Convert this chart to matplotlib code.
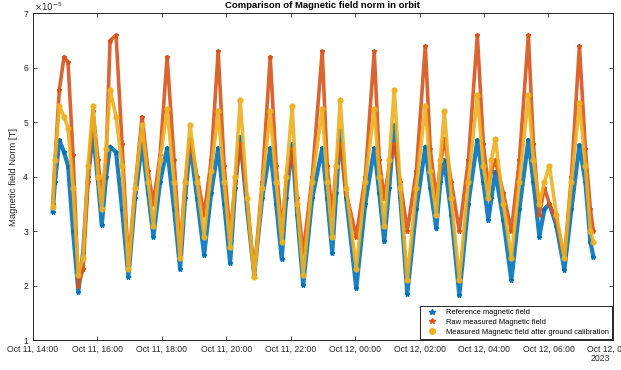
import matplotlib
matplotlib.use("Agg")
import matplotlib.pyplot as plt
import matplotlib.dates as mdates
from matplotlib.lines import Line2D
import pandas as pd

plt.rcParams['font.family'] = ['Liberation Sans', 'DejaVu Sans']

# hours since Oct 11 2023, 14:00
hours = [0.615, 0.686, 0.820, 0.966, 1.090, 1.245, 1.410, 1.556, 1.711, 1.866,
         2.022, 2.137, 2.270, 2.394, 2.581, 2.767, 2.963, 3.171, 3.388, 3.575,
         3.739, 3.947, 4.165, 4.382, 4.568, 4.724, 4.879, 5.096, 5.314, 5.531,
         5.749, 5.935, 6.121, 6.277, 6.432, 6.649, 6.867, 7.115, 7.364, 7.550,
         7.721, 7.860, 8.047, 8.202, 8.388, 8.668, 8.978, 9.134, 9.289, 9.413,
         9.537, 9.724, 10.034, 10.314, 10.593, 10.749, 10.904, 11.059, 11.214, 11.401,
         11.618, 11.898, 12.177, 12.332, 12.519, 12.643, 12.767, 12.985, 13.233, 13.513,
         13.792, 13.979, 14.134, 14.227, 14.351, 14.600, 14.848, 15.096, 15.376, 15.531,
         15.717, 15.873, 16.028, 16.245, 16.494, 16.711, 16.960, 17.146, 17.301, 17.394]

# field norm, units of 1e-5 T
ref_field = [3.36, 3.90, 4.67, 4.45, 4.20, 3.00, 1.89, 2.60, 4.00, 4.80,
             3.90, 3.11, 4.00, 4.55, 4.45, 3.40, 2.16, 3.60, 4.61, 3.70,
             2.90, 3.90, 4.52, 3.40, 2.30, 3.60, 4.60, 3.60, 2.56, 3.70,
             4.52, 3.50, 2.41, 3.80, 4.73, 3.40, 2.20, 3.60, 4.52, 3.50,
             2.49, 3.60, 4.60, 3.30, 2.01, 3.60, 4.52, 3.60, 2.60, 3.70,
             4.85, 3.60, 1.95, 3.50, 4.52, 3.70, 2.81, 3.80, 4.95, 3.60,
             1.85, 3.40, 4.55, 3.80, 3.05, 3.90, 4.30, 3.30, 1.82, 3.50,
             4.67, 3.90, 3.20, 3.60, 4.09, 3.20, 2.10, 3.40, 4.67, 3.90,
             2.90, 3.40, 3.50, 3.10, 2.29, 3.40, 4.58, 3.90, 2.80, 2.53]

raw_field = [3.50, 4.30, 5.60, 6.20, 6.10, 4.40, 2.00, 2.30, 3.90, 5.20,
             4.30, 3.60, 4.30, 6.50, 6.60, 4.60, 2.40, 3.80, 5.10, 4.10,
             3.50, 4.40, 6.20, 4.30, 2.60, 3.90, 4.70, 4.00, 3.30, 4.30,
             6.30, 4.20, 2.90, 3.90, 4.60, 3.60, 2.20, 3.90, 6.20, 4.20,
             3.00, 3.90, 4.50, 3.60, 2.60, 4.00, 6.30, 4.20, 3.30, 4.20,
             4.60, 3.70, 2.90, 4.00, 6.30, 4.30, 3.60, 4.20, 4.60, 3.90,
             3.00, 4.10, 6.40, 4.50, 3.60, 4.20, 4.70, 3.90, 3.00, 4.30,
             6.60, 4.60, 3.80, 4.10, 4.30, 3.70, 3.00, 4.30, 6.60, 4.60,
             3.30, 3.80, 3.50, 3.20, 2.50, 4.00, 6.40, 4.50, 3.40, 3.00]

cal_field = [3.45, 4.30, 5.30, 5.10, 4.90, 3.80, 2.20, 2.50, 4.20, 5.30,
             4.00, 3.40, 4.50, 5.60, 5.10, 4.20, 2.30, 3.80, 4.95, 3.90,
             3.10, 4.30, 5.25, 3.90, 2.50, 3.90, 4.95, 3.90, 2.90, 4.10,
             5.20, 3.90, 2.70, 4.00, 5.40, 3.60, 2.15, 3.80, 5.20, 3.90,
             2.80, 4.00, 5.30, 3.50, 2.20, 3.90, 5.25, 3.90, 2.90, 4.20,
             5.40, 3.80, 2.30, 3.90, 5.25, 4.00, 3.10, 4.30, 5.60, 3.80,
             2.10, 3.80, 5.30, 4.10, 3.30, 4.30, 5.20, 3.60, 2.10, 3.90,
             5.50, 4.20, 3.60, 4.30, 4.70, 3.50, 2.50, 3.90, 5.50, 4.30,
             3.50, 3.90, 4.20, 3.30, 2.50, 3.90, 5.35, 4.20, 3.00, 2.80]

labels = ['Reference magnetic field', 'Raw measured Magnetic field',
          'Measured Magnetic field after ground calibration']
colors = ['#0072BD', '#D95319', '#EDB120']

t0 = pd.Timestamp('2023-10-11 14:00')
times = t0 + pd.to_timedelta(hours, unit='h')

fig = plt.figure(figsize=(6.21, 3.70), dpi=100)
ax = fig.add_axes([0.053, 0.081, 0.934, 0.883])

series = [ref_field, raw_field, cal_field]
markers = ['*', '*', 'o']
widths = [3.0, 2.6, 2.6]
for vals, c, m, w in zip(series, colors, markers, widths):
    v = [x * 1e-5 for x in vals]
    ax.plot(times, v, '-', color=c, lw=w, alpha=0.9,
            marker=m, ms=3.5, mec=c, mfc=c)

ax.set_xlim(t0, t0 + pd.Timedelta(hours=18))
ax.set_ylim(1e-5, 7e-5)
ax.set_yticks([i * 1e-5 for i in range(1, 8)])
ax.set_yticklabels([str(i) for i in range(1, 8)])
ax.xaxis.set_major_locator(mdates.HourLocator(byhour=range(0, 24, 2)))
ax.xaxis.set_major_formatter(mdates.DateFormatter('%b %d, %H:%M'))

ax.tick_params(direction='in', top=True, right=True, labelsize=6.2,
               colors='#262626', length=3, width=0.6)
for s in ax.spines.values():
    s.set_color('#262626')
    s.set_linewidth(0.7)

ax.set_ylabel('Magnetic field Norm [T]', fontsize=6.8, color='#262626')
ax.set_title('Comparison of Magnetic field norm in orbit', fontsize=6.8,
             fontweight='bold', pad=4)
fig.text(0.055, 0.966, r'$\times10^{-5}$', fontsize=6.2, color='#262626',
         ha='left', va='bottom')
fig.text(0.966, 0.025, '2023', fontsize=6.2, color='#262626', ha='center')

handles = [Line2D([], [], ls='none', marker=m, color=c, ms=4)
           for c, m in zip(colors, ['*', '*', 'o'])]
leg = ax.legend(handles, labels, loc='lower right', fontsize=5.4,
                fancybox=False, framealpha=1, edgecolor='#262626',
                borderpad=0.4, labelspacing=0.35, handletextpad=0.8,
                handlelength=2.2, borderaxespad=0.15)
leg.get_frame().set_linewidth(0.7)

fig.savefig('out.png', dpi=100)
